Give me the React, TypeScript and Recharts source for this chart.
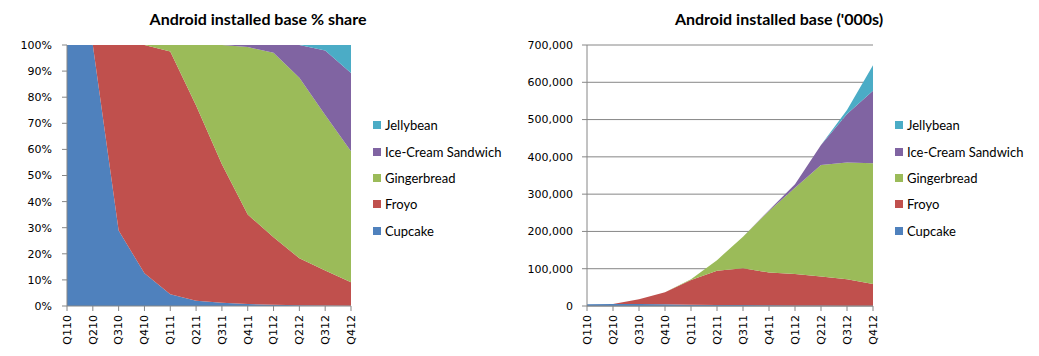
import React from "react"
import { AreaChart, Area, XAxis, YAxis, CartesianGrid } from "recharts"

const quarters = ["Q110", "Q210", "Q310", "Q410", "Q111", "Q211", "Q311", "Q411", "Q112", "Q212", "Q312", "Q412"]

// installed base in '000s
const cupcake = [5000, 5500, 5200, 4600, 3200, 2500, 2400, 2000, 1600, 1300, 1000, 600]
const froyo = [0, 0, 12800, 32100, 66500, 92000, 98600, 88000, 84400, 77700, 70500, 58400]
const gingerbread = [0, 0, 0, 0, 1800, 28500, 85000, 165000, 231000, 299000, 313500, 324000]
const iceCream = [0, 0, 0, 0, 0, 0, 0, 2000, 9800, 54000, 130000, 194000]
const jellybean = [0, 0, 0, 0, 0, 0, 0, 0, 0, 0, 11000, 69000]

const shareTicks = [0, 0.1, 0.2, 0.3, 0.4, 0.5, 0.6, 0.7, 0.8, 0.9, 1]
const baseTicks = [0, 100000, 200000, 300000, 400000, 500000, 600000, 700000]

const series = [
  { key: "Cupcake", color: "#4F81BD" },
  { key: "Froyo", color: "#C0504D" },
  { key: "Gingerbread", color: "#9BBB59" },
  { key: "Ice-Cream Sandwich", color: "#8064A2" },
  { key: "Jellybean", color: "#4BACC6" },
]

const data = quarters.map((q, i) => ({
  q,
  Cupcake: cupcake[i],
  Froyo: froyo[i],
  Gingerbread: gingerbread[i],
  "Ice-Cream Sandwich": iceCream[i],
  Jellybean: jellybean[i],
}))

const axisGray = "#868686"
const tickFont = { fontFamily: "DejaVu Sans", fontSize: 11, fill: "#000" }

function QuarterTick(props: any) {
  const { x, y, payload } = props
  return (
    <text
      x={x}
      y={y + 2}
      transform={`rotate(-90, ${x}, ${y + 2})`}
      textAnchor="end"
      dy="0.35em"
      {...tickFont}
    >
      {payload.value}
    </text>
  )
}

function SideLegend({ left }: { left: number }) {
  const rows = [...series].reverse()
  return (
    <div style={{ position: "absolute", left, top: 112, fontFamily: "Lato", fontSize: 13, color: "#000" }}>
      {rows.map((s) => (
        <div key={s.key} style={{ height: 26.4, display: "flex", alignItems: "center", whiteSpace: "nowrap" }}>
          <span style={{ width: 8, height: 8, background: s.color, marginRight: 4, display: "inline-block" }} />
          {s.key}
        </div>
      ))}
    </div>
  )
}

const titleStyle: React.CSSProperties = {
  position: "absolute",
  top: 9,
  fontFamily: "Lato",
  fontWeight: 700,
  fontSize: 16,
  color: "#000",
  transform: "translateX(-50%)",
  whiteSpace: "nowrap",
}

export default function App() {
  return (
    <div style={{ position: "absolute", left: 0, top: 0, width: 1039, height: 356, background: "#fff" }}>
      <div style={{ ...titleStyle, left: 258 }}>Android installed base % share</div>
      <div style={{ ...titleStyle, left: 779 }}>Android installed base ('000s)</div>

      <div style={{ position: "absolute", left: 0, top: 0 }}>
        <AreaChart width={360} height={356} data={data} stackOffset="expand" margin={{ top: 45, right: 9, bottom: 0, left: 0 }}>
          <XAxis
            dataKey="q"
            interval={0}
            height={50}
            tickSize={5}
            tick={<QuarterTick />}
            stroke={axisGray}
          />
          <YAxis
            width={67}
            domain={[0, 1]}
            ticks={shareTicks}
            tickSize={5}
            tickMargin={10}
            stroke={axisGray}
            tick={tickFont}
            tickFormatter={(v: number) => `${Math.round(v * 100)}%`}
          />
          {series.map((s) => (
            <Area
              key={s.key}
              type="linear"
              dataKey={s.key}
              stackId="a"
              stroke="none"
              fill={s.color}
              fillOpacity={1}
              isAnimationActive={false}
            />
          ))}
        </AreaChart>
      </div>
      <SideLegend left={373} />

      <div style={{ position: "absolute", left: 500, top: 0 }}>
        <AreaChart width={380} height={356} data={data} margin={{ top: 45, right: 7, bottom: 0, left: 0 }}>
          <CartesianGrid horizontal vertical={false} stroke={axisGray} />
          <XAxis
            dataKey="q"
            interval={0}
            height={50}
            tickSize={5}
            tick={<QuarterTick />}
            stroke={axisGray}
          />
          <YAxis
            width={87}
            domain={[0, 700000]}
            ticks={baseTicks}
            tickSize={5}
            tickMargin={9}
            stroke={axisGray}
            tick={tickFont}
            tickFormatter={(v: number) => v.toLocaleString("en-US")}
          />
          {series.map((s) => (
            <Area
              key={s.key}
              type="linear"
              dataKey={s.key}
              stackId="b"
              stroke="none"
              fill={s.color}
              fillOpacity={1}
              isAnimationActive={false}
            />
          ))}
        </AreaChart>
      </div>
      <SideLegend left={895} />
    </div>
  )
}
